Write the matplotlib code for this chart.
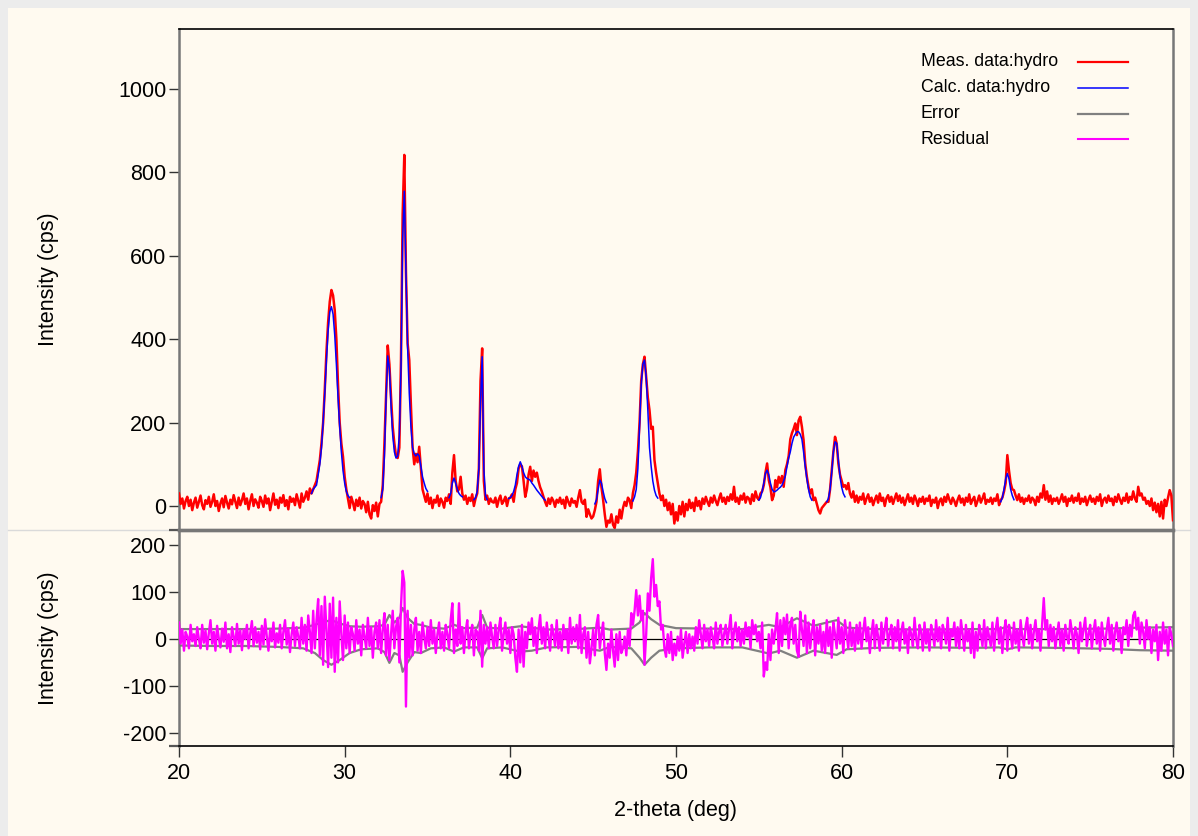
import numpy as np
import matplotlib
matplotlib.use("Agg")
import matplotlib.pyplot as plt
from matplotlib.lines import Line2D
from matplotlib.patches import Rectangle

plt.rcParams['font.family'] = ['Liberation Sans', 'DejaVu Sans']
plt.rcParams['axes.unicode_minus'] = False

# ---------------- data ----------------
angle_start = 20.0
angle_step = 0.1

meas = [
    30, 5, 18, -6, 12, 22, 0, 15, -10, 8,
    20, -4, 10, 25, 2, -8, 14, 5, 22, -2,
    10, 28, 0, 12, -12, 6, 18, -3, 24, 8,
    -6, 15, 4, 26, 10, -5, 20, 2, 14, 30,
    5, 18, -8, 12, 28, 0, 16, 8, -4, 22,
    12, -2, 25, 6, 18, -10, 10, 30, 3, 15,
    -5, 20, 8, 26, 0, 14, -8, 22, 10, 18,
    2, 28, 12, -4, 30, 10, 20, 35, 15, 42,
    30, 40, 50, 60, 85, 110, 150, 200, 280, 370,
    440, 490, 518, 505, 470, 400, 290, 200, 150, 118,
    70, 40, 18, -5, 22, 8, -10, 15, 0, 20,
    -6, 12, 5, -15, 10, -20, -30, 2, -12, 8,
    -25, 5, 10, 50, 150, 270, 385, 340, 260, 190,
    150, 120, 115, 140, 350, 700, 842, 560, 390, 350,
    240, 140, 100, 125, 105, 142, 90, 40, 25, 10,
    30, 5, 20, -5, 15, 8, 25, 0, 18, 10,
    -4, 20, 12, 28, 5, 80, 122, 60, 35, 40,
    70, 30, 15, 25, 5, 20, 12, 28, 0, 18,
    30, 90, 300, 378, 60, 15, 25, 5, 18, 10,
    8, 20, -2, 15, 25, 5, 12, 22, 0, 18,
    20, 28, 10, 40, 55, 90, 100, 95, 60, 22,
    40, 75, 94, 60, 85, 70, 80, 60, 45, 35,
    22, 10, 0, 18, 5, 20, 12, -2, 15, 8,
    20, 5, 15, -5, 22, 10, 0, 18, 8, 12,
    -2, 20, 38, 10, 5, 15, -26, -8, -20, -30,
    -25, -10, 10, 60, 88, 45, 15, -20, -50, -35,
    -40, -20, -45, -53, -25, -40, -9, -30, -5, 10,
    0, 20, 14, -5, 31, 50, 80, 130, 200, 300,
    340, 358, 310, 260, 230, 185, 190, 110, 80, 55,
    30, 14, 25, 0, 15, -10, 8, -20, 5, -42,
    -15, -35, 0, -20, 10, -25, 5, -10, 15, -5,
    8, -12, 20, 0, 12, -8, 18, 5, 22, 10,
    0, 20, 8, 25, 12, 2, 18, 30, 10, 20,
    5, 22, 12, 28, 15, 46, 10, 20, 5, 25,
    15, 30, 8, 22, 18, 5, 28, 12, 35, 20,
    15, 30, 35, 50, 80, 102, 62, 45, 14, 25,
    62, 45, 70, 55, 72, 46, 86, 100, 120, 160,
    175, 185, 198, 170, 205, 214, 190, 158, 102, 70,
    46, 30, 40, 14, 20, 5, -10, -18, -5, 0,
    5, 10, 10, 40, 86, 130, 166, 150, 102, 75,
    60, 46, 50, 40, 55, 30, 20, 35, 10, 25,
    8, 22, 15, 30, 5, 18, 28, 10, 20, 2,
    15, 25, 8, 30, 12, 20, 0, 18, 26, 10,
    22, 5, 18, 30, 12, 25, 8, 20, 2, 15,
    28, 10, 20, 5, 25, 15, 0, 18, 10, 22,
    5, 18, 12, 25, 0, 15, 8, 20, -5, 12,
    18, 2, 22, 10, 28, 15, 5, 20, 12, 0,
    15, 25, 8, 18, 2, 20, 10, 28, 5, 15,
    22, 0, 12, 25, 8, 18, 30, 5, 15, 10,
    20, 5, 18, 12, 28, 2, 14, 20, 35, 55,
    122, 85, 55, 40, 38, 25, 14, 28, 10, 20,
    5, 18, 12, 25, 8, 20, 15, 2, 22, 10,
    30, 20, 50, 15, 35, 10, 25, 5, 18, 12,
    20, 5, 15, 28, 10, 22, 0, 18, 12, 25,
    8, 20, 12, 30, 5, 18, 10, 22, 2, 15,
    25, 10, 18, 5, 22, 12, 28, 0, 15, 20,
    8, 25, 12, 18, 2, 22, 10, 28, 15, 5,
    20, 12, 30, 8, 22, 15, 35, 18, 10, 46,
    25, 30, 15, 20, 5, 12, 0, 18, -10, 8,
    -15, 5, -25, 10, -30, 15, 0, 20, 38, 25,
    -34,
]

residual = [
    35, -10, 20, -25, 15, 5, -20, 30, -5, 10,
    -15, 25, 0, -20, 30, -8, 18, -22, 12, 40,
    -10, 15, -25, 28, 2, -18, 22, -6, 35, -20,
    10, -28, 25, 5, -15, 32, -10, 18, -24, 20,
    0, 30, -20, 12, 38, -15, 25, -8, 15, -22,
    28, -12, 42, 5, -25, 20, -5, 35, -18, 12,
    -8, 30, -20, 15, 40, -12, 22, -28, 10, 35,
    -15, 25, 5, -20, 45, -10, 30, -25, 50, 15,
    -30, 60, -20, 40, 85, -35, 70, -55, 90, 20,
    -60, 75, -40, 88, -70, 45, -50, 80, 10, -45,
    50, -20, 35, -30, 25, 10, -25, 40, -10, 20,
    -35, 30, 5, -20, 45, -15, 25, -40, 15, 35,
    -20, 40, -30, 20, 55, -35, 30, -45, 10, 60,
    -20, 25, 45, -50, 70, 145, 120, -144, 60, -40,
    30, -35, 20, 45, -25, 15, -30, 35, 5, -20,
    25, -15, 40, -10, 20, -30, 10, 35, -20, 15,
    -25, 30, 10, -20, 40, 76, -30, 20, -15, 76,
    -10, 25, -30, 15, 40, -20, 10, 30, -35, 20,
    15, -25, 60, -59, 30, -10, 25, -20, 35, 5,
    -20, 30, -15, 20, 45, -25, 10, 35, -10, 20,
    -30, 25, 10, -40, -70, 20, -50, 30, -59, 15,
    -20, 35, 10, 44, -15, 25, -30, 20, 51, -10,
    25, -20, 35, 5, -25, 30, 10, -15, 40, -20,
    15, -25, 30, 0, 20, -30, 45, -10, 25, -5,
    30, -20, 51, -30, 10, 25, -40, 15, -52, -20,
    20, -35, 30, 51, -20, 10, 35, -30, -66, -10,
    -40, 20, -25, -59, 10, -45, 15, -30, -20, 5,
    -35, 20, -15, 55, 30, 60, 104, 50, 92, 40,
    60, -55, 10, 97, 60, 130, 170, 90, 115, 70,
    80, 20, 30, -20, -38, 10, -30, 15, -45, -10,
    -35, 5, -25, 20, -40, -10, 15, -30, 10, -20,
    5, -25, 25, -10, 40, 10, -20, 30, -5, 20,
    -15, 25, 5, -20, 35, -10, 15, 30, -15, 10,
    30, -10, 20, 51, -20, 15, 35, -5, 25, -15,
    20, -10, 35, 5, 25, -20, 40, 10, 30, -5,
    15, -20, 35, -80, -50, -66, 10, -45, 20, -10,
    20, 55, -30, 40, -15, 45, 10, 52, -20, 30,
    45, -10, 30, -25, -38, 58, 20, -15, 50, -30,
    35, -20, 15, 40, -35, 25, -10, 30, -25, 15,
    -30, 40, -15, 25, -40, 35, 10, -20, 45, -10,
    25, -30, 40, 10, -20, 35, -15, 20, -25, 30,
    -10, 35, -20, 15, 45, -5, 25, -30, 10, 40,
    -20, 30, 5, -25, 35, -10, 20, 45, -15, 10,
    30, -20, 25, -5, 40, -25, 15, 35, -10, 20,
    -30, 25, 10, -15, 45, 0, -20, 30, 15, -25,
    35, -10, 20, -25, 30, 10, -15, 40, -5, 25,
    -20, 30, 15, -10, 45, -25, 20, 5, 35, -15,
    25, -20, 40, 10, -25, 30, -5, 20, -30, 35,
    -40, 15, -25, 30, 10, -15, 40, -20, 25, 5,
    -15, 35, -25, 20, 45, -10, 25, -30, 15, 40,
    -25, 30, 10, -20, 35, -10, 20, -25, 40, 5,
    -15, 25, 45, -10, 30, -20, 15, 40, -5, 20,
    -25, 30, 87, 20, 40, -15, 30, -5, 25, -20,
    10, 35, -15, 20, -25, 30, 5, -10, 40, 15,
    -20, 25, 10, -30, 35, -5, 20, 45, -15, 10,
    30, -20, 15, 40, -10, 25, -25, 35, 5, -15,
    20, 45, -10, 30, -25, 15, 35, -5, 20, -30,
    25, 10, 40, -15, 30, 5, 50, 58, 20, 45,
    -10, 35, 15, -20, 40, 0, 25, -30, 20, -5,
    30, -45, 15, -25, 35, -10, 20, -35, 25, 10,
    -15,
]

# calculated profile, drawn only over the refined peak ranges
calc_seg_starts = [28.0, 32.2, 36.3, 37.8, 39.9, 45.1, 47.4, 55.0, 59.1, 69.6]
calc_seg_values = [
    [30, 40, 45, 50, 75, 100, 140, 200, 270, 350, 420, 465, 478, 460, 410,
     340, 260, 190, 130, 85, 55, 35, 25, 20],
    [20, 40, 120, 260, 360, 330, 240, 170, 130, 115, 120, 170, 330, 640, 755,
     560, 380, 270, 190, 140, 125, 120, 125, 120, 95, 70, 55, 42, 35],
    [20, 30, 55, 67, 55, 40, 30, 25, 22],
    [15, 20, 35, 90, 250, 358, 90, 25, 15],
    [18, 20, 25, 35, 50, 75, 95, 106, 95, 80, 70, 66, 64, 62, 55, 50, 44, 38,
     33, 28, 23, 18, 14],
    [5, 15, 40, 62, 55, 35, 18, 8],
    [12, 22, 40, 90, 190, 290, 340, 350, 310, 230, 140, 95, 60, 38, 25, 19],
    [14, 20, 35, 55, 78, 86, 75, 55, 40, 34, 35, 38, 42, 45, 50, 60, 72, 95,
     115, 130, 150, 165, 172, 178, 178, 172, 160, 130, 95, 65, 40, 22, 14],
    [10, 18, 40, 80, 130, 154, 150, 110, 70, 45, 30, 22],
    [10, 20, 40, 65, 78, 65, 40, 25, 15],
]

err_x = [20, 22, 24, 26, 27.5, 28.2, 28.7, 29.2, 29.7, 30.3, 31, 32, 32.4, 32.7,
         33.0, 33.3, 33.5, 33.8, 34.2, 34.6, 35.2, 36, 36.6, 37.2, 38, 38.3,
         38.6, 39.5, 40.6, 41.3, 42.2, 44, 45.4, 46, 47.3, 47.8, 48.1, 48.5,
         49, 50, 52, 54, 55.6, 56.3, 57.3, 58.3, 59.7, 60.3, 62, 65, 68, 69.5,
         70, 70.5, 73, 76, 78, 80]
err_hi = [21, 21, 21, 22, 24, 30, 36, 40, 33, 27, 26, 27, 30, 51, 35, 45, 66, 45,
          32, 30, 24, 22, 30, 23, 24, 51, 24, 22, 27, 24, 20, 21, 24, 20, 22,
          35, 55, 42, 30, 23, 22, 21, 30, 25, 44, 28, 40, 24, 21, 20, 21, 21,
          26, 21, 21, 22, 24, 25]
err_lo = [-14, -15, -15, -17, -20, -30, -45, -55, -45, -30, -22, -20, -28, -51,
          -30, -35, -70, -50, -28, -30, -20, -18, -27, -18, -18, -41, -20, -18,
          -27, -25, -18, -17, -25, -17, -20, -40, -55, -40, -25, -20, -18, -18,
          -31, -25, -40, -25, -34, -22, -19, -18, -19, -18, -22, -18, -19, -21,
          -24, -25]

legend_labels = ["Meas. data:hydro", "Calc. data:hydro", "Error", "Residual"]
x_ticks = [20, 30, 40, 50, 60, 70, 80]
top_yticks = [0, 200, 400, 600, 800, 1000]
bot_yticks = [-200, -100, 0, 100, 200]

# ---------------- figure ----------------
W, H = 1198, 836
fig = plt.figure(figsize=(W / 100, H / 100), dpi=100)
fig.patch.set_facecolor('#ECECEC')
cream = '#FFFAF0'
fig.add_artist(Rectangle((8 / W, 0), (1190 - 8) / W, 1 - 8 / H,
                         transform=fig.transFigure, facecolor=cream,
                         edgecolor='none', zorder=-10))
fig.add_artist(Line2D([8 / W, 1190 / W], [1 - 530 / H] * 2, transform=fig.transFigure,
                      color='#DADADA', lw=1.0, zorder=-5))

L, R = 179, 1173
ax1 = fig.add_axes([L / W, 1 - 530 / H, (R - L) / W, (530 - 29) / H])
ax2 = fig.add_axes([L / W, 1 - 746 / H, (R - L) / W, (746 - 530) / H], sharex=ax1)
for ax in (ax1, ax2):
    ax.set_facecolor('none')

n = len(meas)
two_theta = angle_start + angle_step * np.arange(n)

# top panel
ax1.plot(two_theta, meas, color='#FF0000', lw=1.8, zorder=3)
for start, vals in zip(calc_seg_starts, calc_seg_values):
    xs = start + angle_step * np.arange(len(vals))
    ax1.plot(xs, vals, color='#0000FF', lw=1.1, zorder=4)
ax1.set_xlim(20, 80)
ax1.set_ylim(-57.6, 1144)
ax1.set_yticks(top_yticks)
ax1.set_yticks([-57.6], minor=True)
ax1.tick_params(axis='x', which='both', bottom=False, labelbottom=False)

# bottom panel
ax2.plot(err_x, err_hi, color='#808080', lw=1.6, zorder=2)
ax2.plot(err_x, err_lo, color='#808080', lw=1.6, zorder=2)
ax2.axhline(0, color='black', lw=0.9, zorder=2.5)
ax2.plot(two_theta, residual, color='#FF00FF', lw=1.7, zorder=3)
ax2.set_ylim(-228, 232)
ax2.set_yticks(bot_yticks)
ax2.set_yticks([-228], minor=True)
ax2.set_xticks(x_ticks)

for ax in (ax1, ax2):
    ax.tick_params(axis='y', which='both', direction='out', length=7.5, width=1.0,
                   color='#333333', labelsize=15.5, pad=1.5)
    ax.tick_params(axis='y', which='minor', color='#555555', width=1.6)
ax2.tick_params(axis='x', direction='out', length=8, width=1.0, color='#333333',
                labelsize=15.5, pad=4)

# spines
gray = '#777777'
ax1.spines['top'].set_color('black'); ax1.spines['top'].set_linewidth(1.2)
ax1.spines['bottom'].set_color(gray); ax1.spines['bottom'].set_linewidth(2.4)
ax2.spines['top'].set_color(gray); ax2.spines['top'].set_linewidth(2.4)
ax2.spines['bottom'].set_color('black'); ax2.spines['bottom'].set_linewidth(1.2)
for ax in (ax1, ax2):
    for s in ('left', 'right'):
        ax.spines[s].set_color(gray)
        ax.spines[s].set_linewidth(1.8)

ax1.set_ylabel('Intensity (cps)', fontsize=15.5)
ax2.set_ylabel('Intensity (cps)', fontsize=15.5)
ax1.yaxis.set_label_coords(-0.121, 0.5)
ax2.yaxis.set_label_coords(-0.121, 0.5)
ax2.set_xlabel('2-theta (deg)', fontsize=15.5, labelpad=12)

# legend (text left, sample line right)
leg_colors = ['#FF0000', '#0000FF', '#808080', '#FF00FF']
leg_lw = [1.6, 1.1, 1.6, 1.5]
leg_rows = [62, 88, 113.5, 139]
for lab, col, lw, yr in zip(legend_labels, leg_colors, leg_lw, leg_rows):
    fig.text(921 / W, 1 - yr / H, lab, fontsize=12.8, ha='left', va='center')
    fig.add_artist(Line2D([1078 / W, 1128 / W], [1 - yr / H] * 2,
                          transform=fig.transFigure, color=col, lw=lw))

fig.savefig('out.png', dpi=100, facecolor=fig.get_facecolor())
